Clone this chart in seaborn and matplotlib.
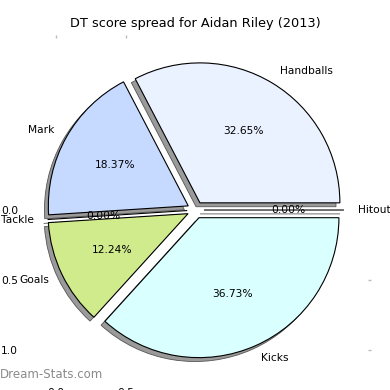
import matplotlib
matplotlib.use('Agg')
import matplotlib.pyplot as plt
import seaborn as sns

# DT score spread data (counts read from the percentages, total 49)
categories = ['Handballs', 'Mark', 'Tackle', 'Goals', 'Kicks', 'Hitout']
counts = [16, 9, 0, 6, 18, 0]
colours = ['#eaf1ff', '#c6d9ff', '#d8d8d8', '#d0eb8c', '#d9ffff', '#d8d8d8']
player = 'Aidan Riley'
season = 2013

sns.set_style('white')
plt.rcParams['font.family'] = ['DejaVu Sans']
plt.rcParams['text.color'] = 'black'
plt.rcParams['xtick.labelcolor'] = 'black'
plt.rcParams['ytick.labelcolor'] = 'black'

fig = plt.figure(figsize=(3.9, 3.9), dpi=100)
rect = [0.053, 0.013, 0.897, 0.897]

# leftover axes underneath the pie (the faint ticks in the background)
bg = fig.add_axes(rect, zorder=0)
bg.set_xlim(-0.25, 2.25)
bg.set_ylim(1.25, -1.25)
bg.set_xticks([0.0, 0.5])
bg.set_yticks([0.0, 0.5, 1.0])
for s in bg.spines.values():
    s.set_visible(False)
bg.tick_params(direction='in', length=2.5, width=1, color='#bbbbbb',
               labelsize=7.7, labelcolor='black', pad=2, top=True, right=True)
bg.patch.set_alpha(0)

ax = fig.add_axes(rect, zorder=1)
ax.pie(counts, labels=categories, colors=colours, autopct='%1.2f%%',
       explode=[0.06] * len(counts),
       shadow={'ox': -0.02, 'oy': -0.02, 'facecolor': '#9a9a9a',
               'edgecolor': '#555555', 'alpha': 1.0, 'linewidth': 0.6},
       startangle=0,
       wedgeprops={'edgecolor': 'black', 'linewidth': 0.8},
       textprops={'fontsize': 7.7, 'color': 'black'})
ax.set_title('DT score spread for %s (%d)' % (player, season), fontsize=9.3,
             color='black')

fig.text(0.0, 0.041, 'Dream-Stats.com', color='#8a8a8a', fontsize=8.5,
         va='center', ha='left')

plt.savefig('out.png', dpi=100)
